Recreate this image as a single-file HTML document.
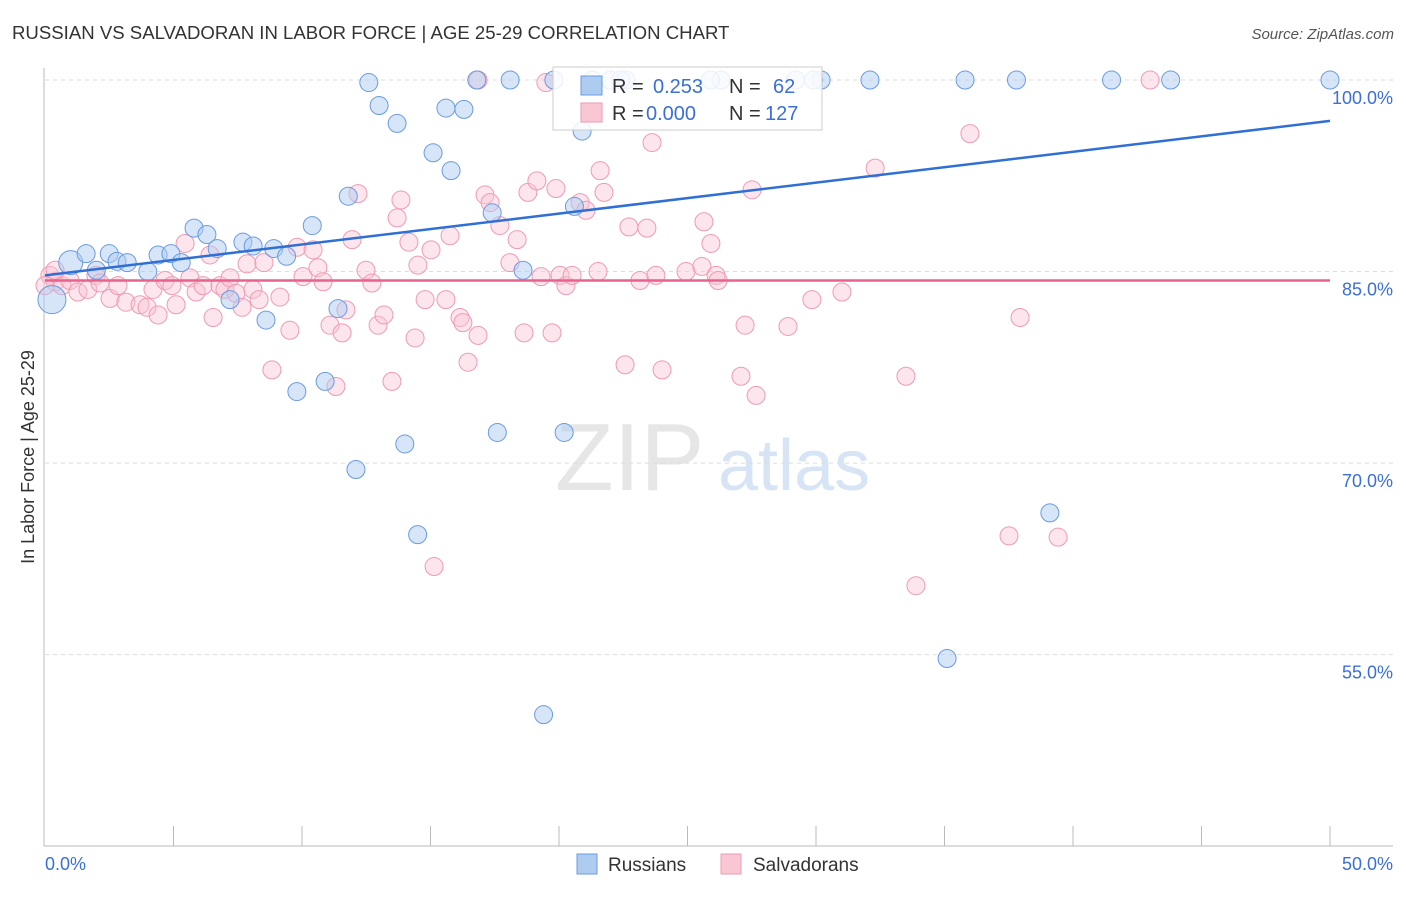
<!DOCTYPE html>
<html><head><meta charset="utf-8"><style>
body{margin:0;background:#fff;font-family:"Liberation Sans",sans-serif}
svg text{font-family:"Liberation Sans",sans-serif}
</style></head><body>
<svg id="c" width="1406" height="892" xmlns="http://www.w3.org/2000/svg">
<text x="12" y="39" font-size="18.6" fill="#333">RUSSIAN VS SALVADORAN IN LABOR FORCE | AGE 25-29 CORRELATION CHART</text>
<text x="1394" y="39" font-size="15" fill="#555" text-anchor="end" font-style="italic">Source: ZipAtlas.com</text>
<text x="555" y="490" font-size="96" fill="#e6e6e6" font-family="Liberation Serif">ZIP</text>
<text x="718" y="490" font-size="72" fill="#d6e4f5">atlas</text>
<text transform="translate(34,457) rotate(-90)" font-size="18" fill="#333" text-anchor="middle">In Labor Force | Age 25-29</text>
<g id="grid"></g><g id="pts"></g><g id="lines"></g>
<g>
<rect x="553" y="67" width="269" height="63" fill="#fff" fill-opacity="0.85" stroke="#ccc"/>
<rect x="581" y="76" width="21" height="19" fill="#aecbf0" stroke="#6a9be0"/>
<rect x="581" y="103" width="21" height="19" fill="#f9c6d4" stroke="#ef9ab3"/>
<text x="612" y="93" font-size="20" fill="#333">R =</text><text x="653" y="93" font-size="20" fill="#3a6fd8">0.253</text>
<text x="729" y="93" font-size="20" fill="#333">N =</text><text x="773" y="93" font-size="20" fill="#3a6fd8">62</text>
<text x="612" y="120" font-size="20" fill="#333">R =</text><text x="646" y="120" font-size="20" fill="#3a6fd8">0.000</text>
<text x="729" y="120" font-size="20" fill="#333">N =</text><text x="765" y="120" font-size="20" fill="#3a6fd8">127</text>
</g>
<g>
<rect x="577" y="854" width="20" height="20" fill="#aecbf0" stroke="#6a9be0"/>
<text x="608" y="871" font-size="19" fill="#333">Russians</text>
<rect x="721" y="854" width="20" height="20" fill="#f9c6d4" stroke="#ef9ab3"/>
<text x="753" y="871" font-size="19" fill="#333">Salvadorans</text>
</g>
</svg>
<script>
const yTicks=[100,85,70,55];
const yTickLabels=["100.0%","85.0%","70.0%","55.0%"];
const xTickLabels=["0.0%","50.0%"];
const rusX=[0.27,1.0,1.6,2.0,2.5,2.8,3.2,4.0,4.4,4.9,5.3,5.8,6.3,6.7,7.2,7.7,8.1,8.6,8.9,9.4,9.8,10.4,10.9,11.4,11.8,12.1,12.6,13.0,13.7,14.0,14.5,15.1,15.6,15.8,16.3,16.8,17.4,17.6,18.1,18.6,19.4,20.2,20.6,20.9,21.3,22.0,22.6,26.3,29.2,30.2,32.1,35.1,35.8,37.8,39.1,41.5,43.8,50,19.8,25.9,29.9,22.4];
const rusY=[82.8,85.7,86.4,85.1,86.4,85.8,85.7,85.0,86.3,86.4,85.7,88.4,87.9,86.8,82.8,87.3,87.0,81.2,86.8,86.2,75.6,88.6,76.4,82.1,90.9,69.5,99.8,98.0,96.6,71.5,64.4,94.3,97.8,92.9,97.7,100,89.6,72.4,100,85.1,50.3,72.4,90.1,96.0,100,100,100,100,100,100,100,54.7,100,100,66.1,100,100,100,100,100,100,100];
const salX=[0.19,0.39,0.66,0.97,1.28,1.67,1.98,2.14,2.53,2.84,3.15,3.70,3.97,4.20,4.40,4.67,4.94,5.10,5.45,5.64,5.88,6.15,6.42,6.54,6.81,7.00,7.20,7.43,7.67,7.86,8.09,8.33,8.52,8.83,9.14,9.53,9.81,10.04,10.43,10.62,10.82,11.09,11.32,11.56,11.71,11.95,12.18,12.49,12.72,12.96,13.19,13.50,13.70,13.85,14.16,14.40,14.51,14.79,15.02,15.14,15.60,15.76,16.15,16.26,16.46,16.85,16.85,17.12,17.32,17.70,18.09,18.37,18.64,18.79,19.14,19.30,19.49,19.73,19.88,20.04,20.27,20.51,20.82,21.05,21.52,21.60,21.75,22.57,22.72,23.15,23.42,23.62,23.77,24.01,24.94,25.56,25.64,25.91,26.11,26.19,27.08,27.24,27.51,27.67,28.91,29.84,31.01,32.30,33.50,33.89,35.99,37.51,37.94,39.42,43.0,0.39,0.0];
const salY=[84.7,84.2,83.9,84.3,83.4,83.6,84.7,84.1,82.9,83.9,82.6,82.4,82.2,83.6,81.6,84.3,83.9,82.4,87.2,84.5,83.4,83.9,86.3,81.4,83.9,83.6,84.5,83.3,82.2,85.6,83.6,82.8,85.7,77.3,83.0,80.4,86.9,84.6,86.7,85.3,84.2,80.8,76.0,80.2,82.0,87.5,91.1,85.1,84.1,80.8,81.6,76.4,89.2,90.6,87.3,79.8,85.5,82.8,86.7,61.9,82.8,87.8,81.4,81.0,77.9,80.0,100,91.0,90.4,88.6,85.7,87.5,80.2,91.2,92.1,84.6,99.8,80.2,91.5,84.7,83.9,84.7,90.4,89.8,85.0,92.9,91.2,77.7,88.5,84.3,88.4,95.1,84.7,77.3,85.0,85.4,88.9,87.2,84.7,84.3,76.8,80.8,91.4,75.3,80.7,82.8,83.4,93.1,76.8,60.4,95.8,64.3,81.4,64.2,100,85.1,83.9];
const rusTrend=[84.7,96.8];
const salTrend=[84.3,84.3];
const NS='http://www.w3.org/2000/svg';
const X=v=>45+v*25.7, Y=v=>80+(100-v)*12.77;
function mk(t,a,p){const e=document.createElementNS(NS,t);for(const k in a)e.setAttribute(k,a[k]);p.appendChild(e);return e;}
const g=document.getElementById('grid');
yTicks.forEach((t,i)=>{
 const l=mk('line',{x1:45,x2:1393,y1:Y(t),y2:Y(t),stroke:'#ddd','stroke-dasharray':'4 4'},g);
 
 
 const tx=mk('text',{x:1393,y:Y(t)+24,'font-size':18,fill:'#3a6fd8','text-anchor':'end'},g);
 tx.textContent=yTickLabels[i];
 
 
});
const ax=mk('path',{d:'M44 68V846H1393',stroke:'#bbb',fill:'none'},g);


for(let k=1;k<=10;k++){const t=mk('line',{x1:45+k*128.5,x2:45+k*128.5,y1:826,y2:846,stroke:'#bbb'},g);
 
 }
const x0=mk('text',{x:45,y:870,'font-size':18,fill:'#3a6fd8'},g);x0.textContent=xTickLabels[0];


const x1=mk('text',{x:1393,y:870,'font-size':18,fill:'#3a6fd8','text-anchor':'end'},g);x1.textContent=xTickLabels[1];


const p=document.getElementById('pts');
salX.forEach((v,i)=>{const c=mk('circle',{cx:X(v),cy:Y(salY[i]),r:9,fill:'#f9c6d4','fill-opacity':0.45,stroke:'#ef9ab3','stroke-width':1},p);
 
 });
rusX.forEach((v,i)=>{const c=mk('circle',{cx:X(v),cy:Y(rusY[i]),r:i==0?14:(i==1?12:9),fill:'#aecbf0','fill-opacity':0.5,stroke:'#6a9be0','stroke-width':1},p);
 
 });
const L=document.getElementById('lines');
const a=mk('line',{x1:X(0),x2:X(50),y1:Y(rusTrend[0]),y2:Y(rusTrend[1]),stroke:'#2f6fd6','stroke-width':2.5},L);


const b=mk('line',{x1:X(0),x2:X(50),y1:Y(salTrend[0]),y2:Y(salTrend[1]),stroke:'#e9628e','stroke-width':2.5},L);


</script>
</body></html>
